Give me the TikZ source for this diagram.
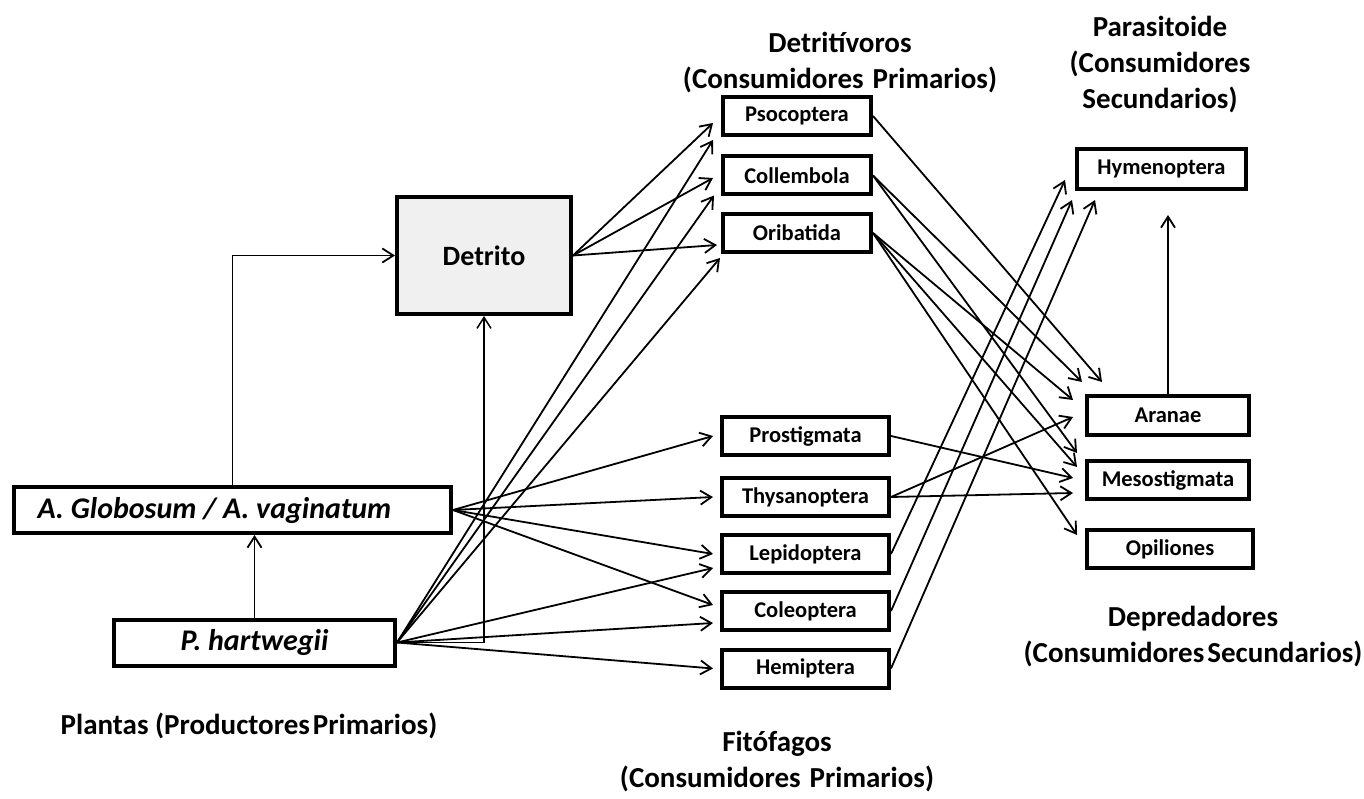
\documentclass[tikz,border=0pt]{standalone}
\usepackage{fontspec}
\setmainfont{Carlito}
\usetikzlibrary{arrows.meta}

\begin{document}
\begin{tikzpicture}[x=1pt, y=-1pt, ->, >={Straight Barb[length=11pt,width=14pt]}, line width=1.8pt,
    box/.style={draw, line width=4pt, shape=rectangle, inner sep=0pt, minimum height=38pt,
      font=\fontsize{22.5}{26}\selectfont\bfseries},
    plant/.style={box, minimum height=46pt, font=\fontsize{30}{33}\selectfont\bfseries\itshape},
    hd/.style={align=center, font=\fontsize{29}{36}\selectfont\bfseries}]
\useasboundingbox (0,0) rectangle (1364,799);

\node (detrito) [box, fill=gray!12, minimum width=174pt, minimum height=117pt,
  font=\fontsize{28}{30}\selectfont\bfseries] at (484,255.5) {Detrito};
\node (globo) [plant, minimum width=437pt] at (232.5,510) {\hspace*{-36pt}A. Globosum / A. vaginatum};
\node (hart)  [plant, minimum width=281pt] at (254.5,642.5) {P. hartwegii};

\node (psoc) [box, minimum width=148pt] at (797,116)   {Psocoptera};
\node (coll) [box, minimum width=148pt] at (797,175.5) {Collembola};
\node (orib) [box, minimum width=148pt] at (797,233)   {Oribatida};

\node (prost) [box, minimum width=167pt] at (805.5,436)   {Prostigmata};
\node (thys)  [box, minimum width=167pt] at (805.5,497)   {Thysanoptera};
\node (lepi)  [box, minimum width=167pt] at (805.5,554)   {Lepidoptera};
\node (coleo) [box, minimum width=167pt] at (805.5,611)   {Coleoptera};
\node (hemi)  [box, minimum width=167pt] at (805.5,668.5) {Hemiptera};

\node (hymen)  [box, minimum width=169pt, minimum height=40pt] at (1161.5,169) {Hymenoptera};
\node (aranae) [box, minimum width=162pt, minimum height=39pt] at (1168,415.5) {Aranae};
\node (meso)   [box, minimum width=162pt] at (1168,480) {Mesostigmata};
\node (opil)   [box, minimum width=166pt] at (1170,549) {Opiliones};
\coordinate (aup) at (1168,215);

\node (hdetri) [hd] at (840,63)    {Detritívoros\\(Consumidores\hspace{9pt}Primarios)};
\node (hpara)  [hd] at (1160,64.5) {Parasitoide\\(Consumidores\\Secundarios)};
\node (hdepre) [hd] at (1193,637)  {Depredadores\\(Consumidores\hspace{3pt}Secundarios)};
\node (hplant) [hd] at (249,726)   {Plantas (Productores\hspace{3pt}Primarios)};
\node (hfito)  [hd] at (777,762)   {Fitófagos\\(Consumidores\hspace{9pt}Primarios)};

\draw (globo.north) |- (detrito.west);
\draw (hart.north) -- (hart.north |- globo.south);
\draw [line width=1.5pt] (hart.east) -| (detrito.south);

\draw (detrito.east) -- ([xshift=-8pt,yshift=-7pt]psoc.west);
\draw (detrito.east) -- ([xshift=-8pt,yshift=-2.5pt]coll.west);
\draw (detrito.east) -- ([xshift=-4pt,yshift=-12pt]orib.west);
\draw (hart.east) -- ([xshift=-8pt,yshift=-3pt]psoc.south west);
\draw (hart.east) -- ([xshift=-7pt,yshift=1pt]coll.south west);
\draw (hart.east) -- ([xshift=-1pt,yshift=-4pt]orib.south west);

\draw (globo.east) -- ([xshift=-7pt]prost.west);
\draw (globo.east) -- ([xshift=-7pt]thys.west);
\draw (globo.east) -- ([xshift=-7pt]lepi.west);
\draw (globo.east) -- ([xshift=-7pt,yshift=6pt]coleo.west);
\draw (hart.east) -- ([xshift=-7pt,yshift=-14pt]lepi.west);
\draw (hart.east) -- ([xshift=-7pt,yshift=-12pt]coleo.west);
\draw (hart.east) -- ([xshift=-7pt]hemi.west);

\draw (psoc.east) -- ([xshift=17pt,yshift=12pt]aranae.north west);
\draw (coll.east) -- ([xshift=-3pt,yshift=12pt]aranae.north west);
\draw (coll.east) -- ([xshift=-8pt,yshift=6pt]meso.north west);
\draw (orib.east) -- ([xshift=-12pt,yshift=15.5pt]aranae.west);
\draw (orib.east) -- ([xshift=-8pt,yshift=-8pt]meso.north west);
\draw (orib.east) -- ([xshift=-8pt,yshift=-7pt]opil.north west);
\draw (prost.east) -- ([xshift=-12pt,yshift=2pt]meso.west);
\draw (thys.east) -- ([xshift=-12pt,yshift=-1.5pt]aranae.west);
\draw (thys.east) -- ([xshift=-12pt,yshift=-13pt]meso.west);

\draw (lepi.east) -- ([xshift=-10pt,yshift=11pt]hymen.south west);
\draw (coleo.east) -- ([xshift=-3pt,yshift=-9pt]hymen.south west);
\draw (hemi.east) -- ([xshift=20pt,yshift=-9pt]hymen.south west);
\draw (aranae.north) -- (aup);
\end{tikzpicture}
\end{document}
